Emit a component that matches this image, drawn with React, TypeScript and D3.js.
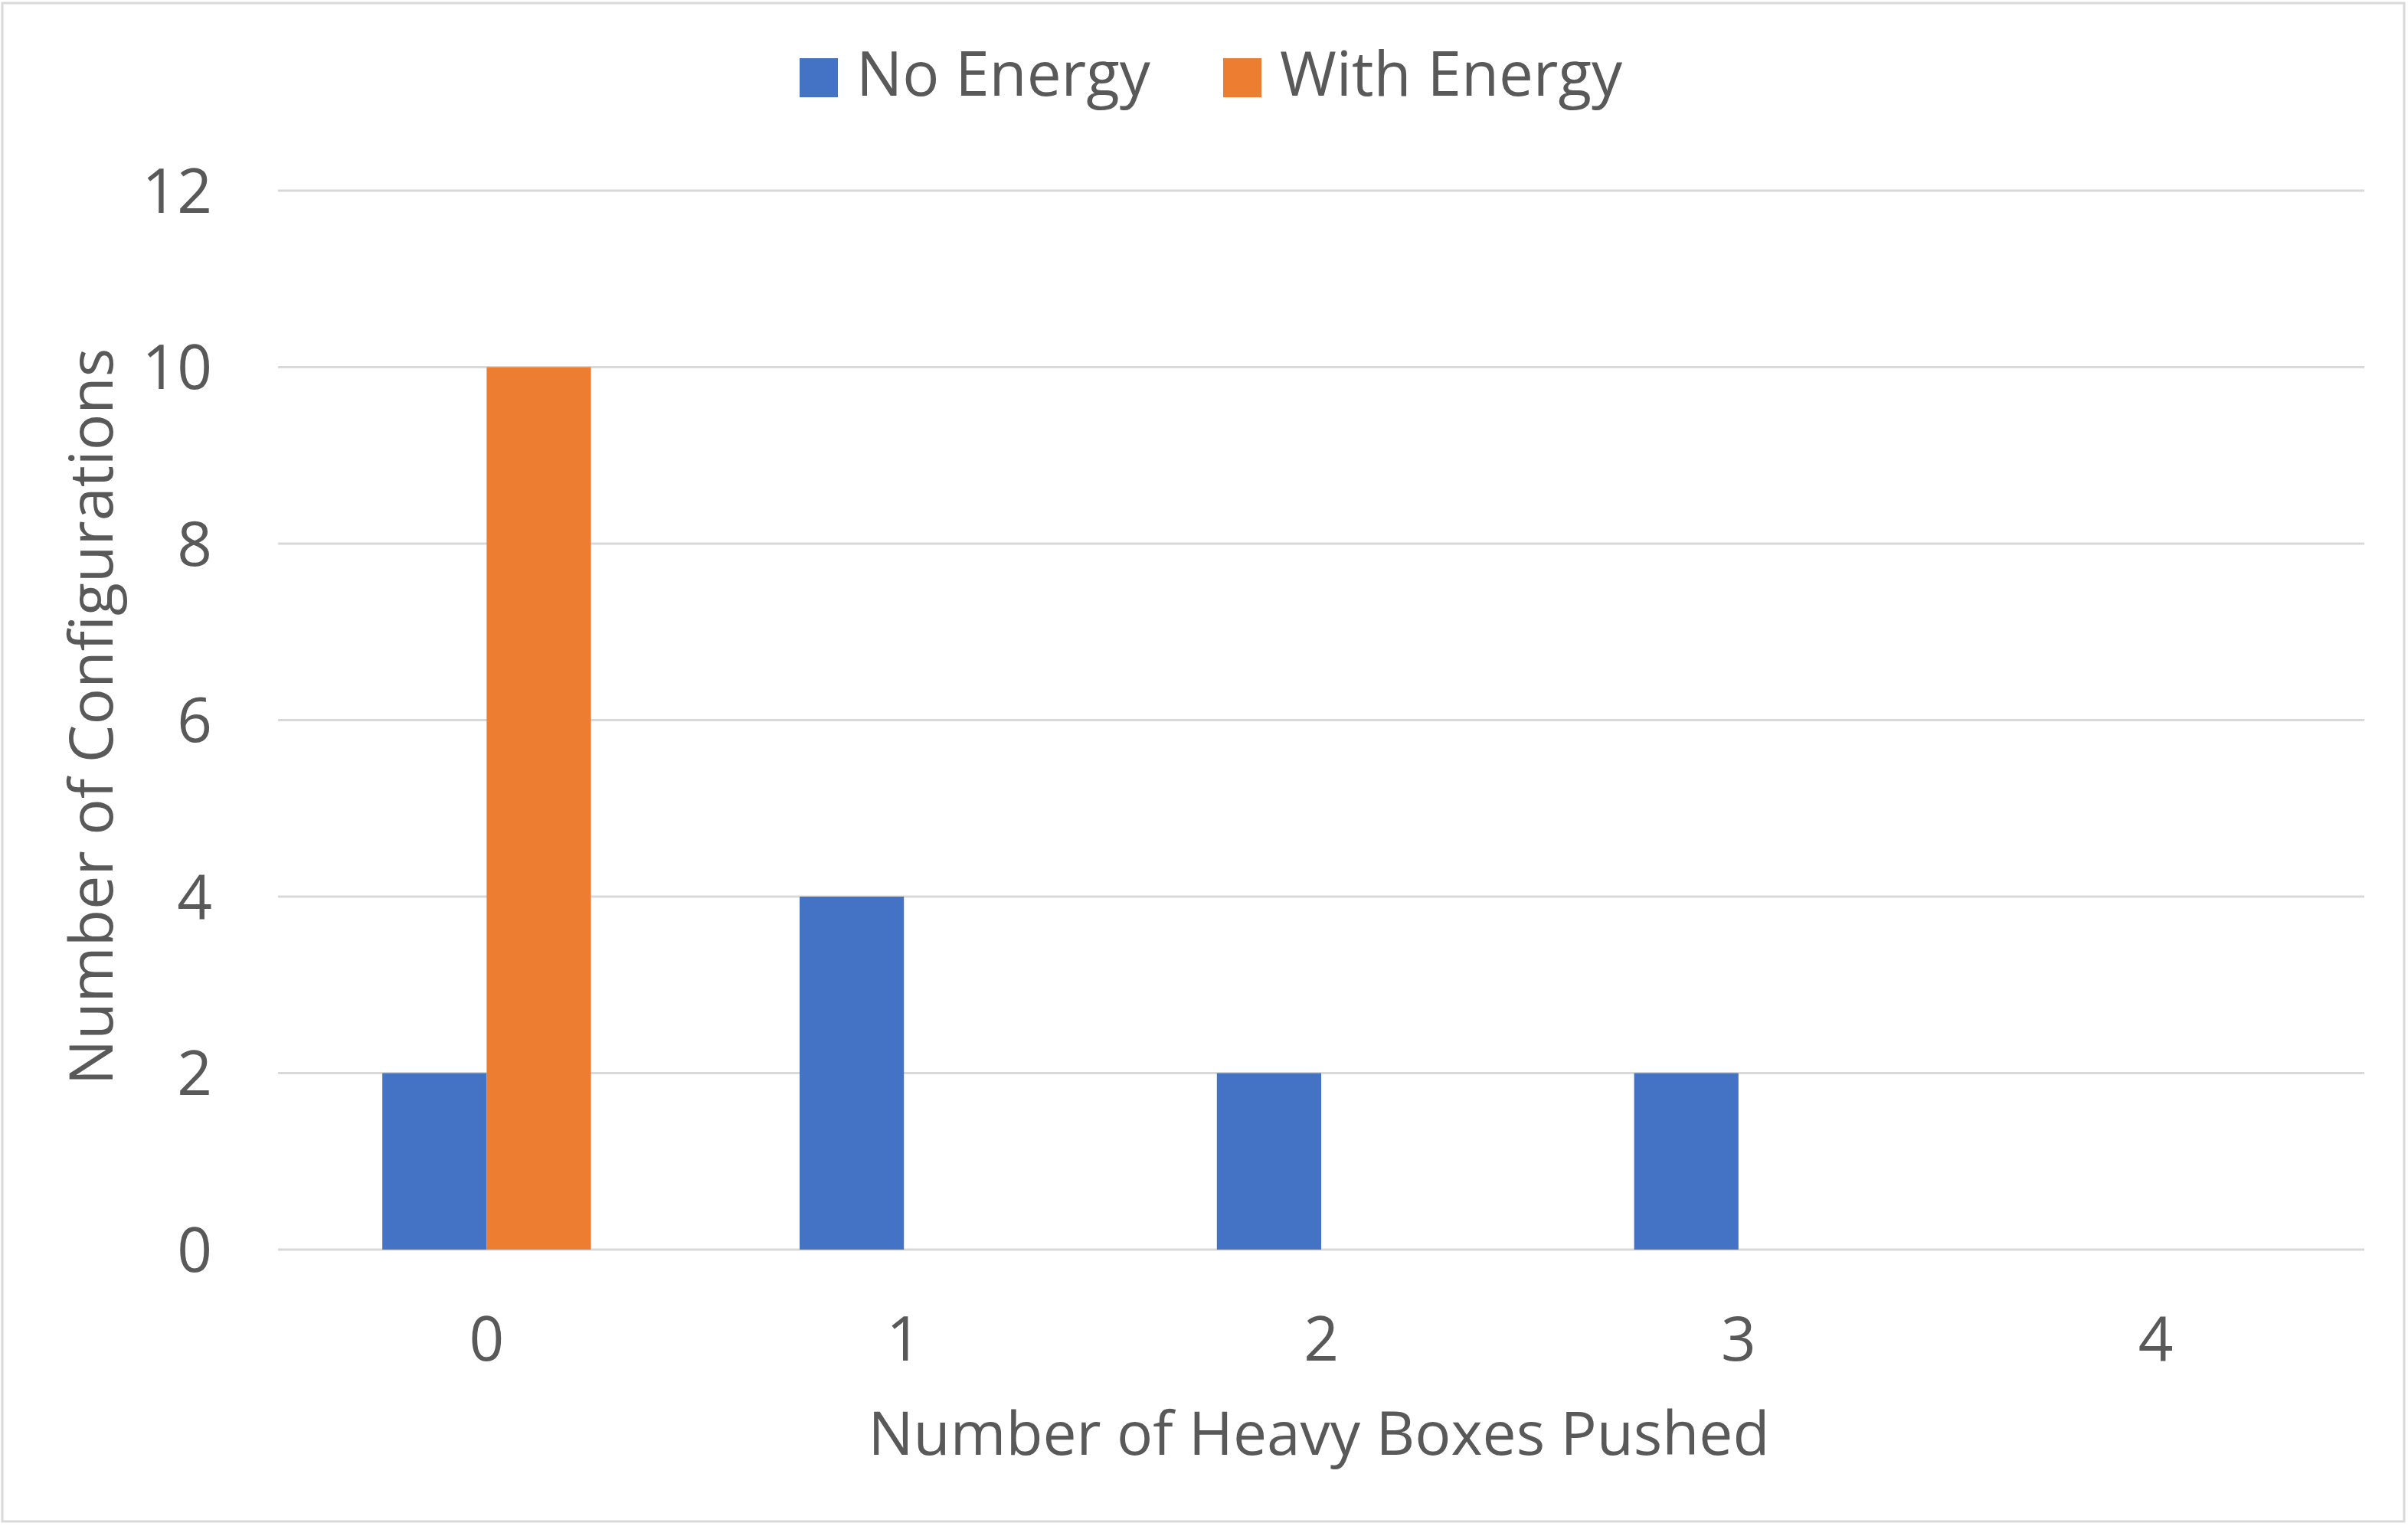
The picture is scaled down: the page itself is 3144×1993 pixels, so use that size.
import React, { useEffect } from "react";
import * as d3 from "d3";

const categories = ["0", "1", "2", "3", "4"];
const seriesNames = ["No Energy", "With Energy"];
const noEnergy = [2, 4, 2, 2, 0];
const withEnergy = [10, 0, 0, 0, 0];
const yTicks = [0, 2, 4, 6, 8, 10, 12];
const xTitle = "Number of Heavy Boxes Pushed";
const yTitle = "Number of Configurations";

const W = 3144;
const H = 1993;
const FONT = "'Open Sans', 'Noto Sans', sans-serif";
const TEXT = "#595959";
const GRID = "#D9D9D9";
const COLORS = ["#4472C4", "#ED7D31"];

export default function App() {
  useEffect(() => {
    document.body.style.margin = "0";
  }, []);

  const x = d3.scaleBand<string>().domain(categories).range([363, 3087]).paddingInner(0.5).paddingOuter(0.25);
  const x1 = d3.scaleBand<string>().domain(seriesNames).range([0, x.bandwidth()]).padding(0);
  const y = d3.scaleLinear().domain([0, 12]).range([1632, 249]);
  const series = [noEnergy, withEnergy];

  return (
    <svg width={W} height={H} style={{ display: "block", background: "#fff" }} fontFamily={FONT}>
      <rect x={3} y={4} width={W - 8} height={H - 10} fill="#fff" stroke={GRID} strokeWidth={3} />
      {yTicks.map((t) => (
        <line key={"g" + t} x1={363} x2={3087} y1={y(t)} y2={y(t)} stroke={GRID} strokeWidth={3} />
      ))}
      {series.map((vals, si) =>
        vals.map((v, i) =>
          v > 0 ? (
            <rect
              key={`b${si}-${i}`}
              x={(x(categories[i]) as number) + (x1(seriesNames[si]) as number)}
              y={y(v)}
              width={x1.bandwidth()}
              height={y(0) - y(v)}
              fill={COLORS[si]}
            />
          ) : null
        )
      )}
      {yTicks.map((t) => (
        <text key={"yt" + t} x={277} y={y(t)} dy="0.36em" textAnchor="end" fontSize={80} fill={TEXT}>
          {t}
        </text>
      ))}
      {categories.map((c) => (
        <text key={"xt" + c} x={(x(c) as number) + x.bandwidth() / 2} y={1777} textAnchor="middle" fontSize={80} fill={TEXT}>
          {c}
        </text>
      ))}
      <text x={1722} y={1900} textAnchor="middle" fontSize={78.5} fill={TEXT}>
        {xTitle}
      </text>
      <text transform={`translate(147,936) rotate(-90)`} textAnchor="middle" fontSize={79} fill={TEXT}>
        {yTitle}
      </text>
      {seriesNames.map((s, i) => {
        const lx = [1044, 1597][i];
        return (
          <g key={"lg" + s}>
            <rect x={lx} y={76} width={50} height={51} fill={COLORS[i]} />
            <text x={lx + 74} y={125} fontSize={80} fill={TEXT}>
              {s}
            </text>
          </g>
        );
      })}
    </svg>
  );
}
